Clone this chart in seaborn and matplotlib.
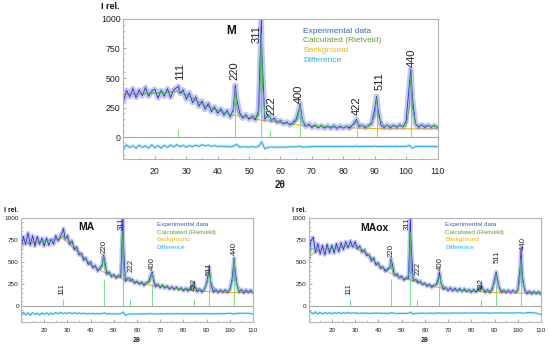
import matplotlib
matplotlib.use("Agg")
import matplotlib.pyplot as plt
import seaborn as sns
import pandas as pd
from matplotlib.ticker import MultipleLocator

# 2theta grid (1 degree steps) for experimental and difference curves
two_theta = list(range(10, 111))

hkl = ['111', '220', '311', '222', '400', '422', '511', '440']
legend_labels = ['Experimental data', 'Calculated (Rietveld)', 'Background', 'Difference']
legend_colors = ['#3164c8', '#5aa02c', '#f3b60c', '#1fb2ee']

# ---------------- M ----------------
m_exp = [300, 395, 340, 410, 335, 400, 350, 420, 345, 390,
         405, 330, 395, 345, 410, 335, 400, 420, 370, 400,
         320, 375, 290, 340, 260, 305, 235, 285, 215, 255,
         200, 240, 185, 225, 170, 240, 330, 205, 160, 190,
         150, 180, 145, 225, 760, 150, 185, 140, 160, 125,
         140, 110, 128, 102, 125, 150, 245, 140, 90, 110,
         80, 102, 78, 98, 75, 95, 74, 96, 72, 92,
         75, 92, 74, 105, 140, 88, 100, 80, 98, 112,
         240, 245, 100, 80, 102, 78, 100, 82, 104, 84,
         135, 440, 330, 110, 82, 104, 80, 100, 82, 98, 80]
m_top_x = [27.5, 45.6, 53.9, 56.5, 66.2, 84.2, 90.6, 101.5]
m_top_y = [430, 440, 1000, 185, 285, 150, 345, 575]
m_calc_x = [10, 15, 20, 25, 27, 27.5, 28, 30, 33, 36, 40, 44, 45, 45.3, 45.6, 45.9, 46.3, 47, 50, 53,
            53.5, 53.9, 54.3, 55, 56, 56.5, 57, 60, 64, 65.5, 66.2, 66.9, 68, 72, 80, 83.7, 84.2, 84.7,
            88, 90, 90.6, 91.2, 93, 100, 101, 101.5, 102, 103, 110]
m_calc_y = [365, 372, 375, 380, 388, 400, 386, 360, 310, 265, 225, 192, 215, 300, 410, 300, 210, 185, 165, 175,
            420, 880, 420, 185, 165, 185, 150, 125, 108, 150, 270, 150, 100, 90, 82, 105, 140, 105,
            88, 170, 330, 170, 95, 92, 250, 540, 250, 105, 88]
m_bg_x = [10, 20, 27, 30, 35, 40, 45, 50, 55, 60, 65, 70, 80, 90, 100, 110]
m_bg_y = [360, 370, 385, 358, 280, 225, 185, 160, 138, 120, 105, 92, 80, 72, 70, 70]
m_diff = [-98, -66, -90, -72, -96, -68, -88, -74, -94, -66,
          -90, -72, -95, -70, -88, -66, -84, -64, -82, -70,
          -86, -72, -82, -68, -80, -64, -76, -68, -80, -72,
          -80, -76, -82, -80, -84, -78, -62, -86, -82, -84,
          -85, -82, -86, -80, -40, -100, -88, -84, -86, -85,
          -86, -84, -85, -83, -82, -84, -76, -86, -84, -83,
          -80, -82, -79, -81, -80, -78, -80, -82, -80, -79,
          -80, -78, -80, -81, -76, -82, -80, -79, -78, -80,
          -76, -82, -79, -80, -78, -80, -79, -78, -80, -79,
          -80, -70, -95, -80, -79, -80, -78, -80, -79, -80, -82]
m_hkl_x = [28, 45.2, 52.3, 57.2, 65.8, 84.3, 91.4, 101.8]
m_hkl_y = [483, 483, 797, 186, 288, 186, 398, 596]
m_bar = [70, 300, 1000, 60, 200, 60, 250, 400]

# ---------------- MA ----------------
ma_exp = [650, 790, 700, 830, 690, 800, 680, 790, 700, 770,
          680, 770, 690, 760, 700, 800, 740, 790, 850, 760,
          800, 700, 740, 640, 670, 580, 600, 520, 545, 470,
          500, 430, 460, 395, 430, 470, 520, 360, 385, 330,
          355, 315, 345, 330, 760, 280, 315, 285, 300, 255,
          280, 245, 270, 230, 262, 275, 350, 300, 215, 245,
          205, 235, 200, 225, 190, 218, 185, 212, 180, 205,
          170, 200, 168, 195, 235, 215, 160, 190, 155, 185,
          260, 400, 225, 155, 185, 150, 180, 152, 182, 150,
          185, 300, 470, 250, 155, 185, 145, 180, 150, 178, 148]
ma_top_x = [28.3, 45.6, 53.9, 57.0, 66.6, 84.5, 91.1, 101.9]
ma_top_y = [880, 580, 1000, 310, 385, 260, 440, 545]
ma_calc_x = [10, 15, 20, 25, 28, 28.3, 28.6, 31, 35, 40, 44, 45, 45.3, 45.6, 45.9, 46.3, 48, 52, 53.4, 53.9,
             54.4, 55.5, 57, 58, 62, 65.5, 66.6, 67.7, 70, 80, 84, 84.5, 85, 89, 90.5, 91.1, 91.7, 94, 100,
             101.3, 101.9, 102.5, 104, 110]
ma_calc_y = [700, 735, 740, 755, 790, 800, 785, 740, 610, 470, 410, 430, 500, 560, 500, 420, 360, 325, 400, 850,
             400, 300, 310, 280, 255, 265, 370, 260, 222, 188, 210, 250, 205, 172, 280, 420, 280, 168, 165,
             300, 520, 300, 170, 162]
ma_bg_x = [10, 20, 28, 35, 40, 45, 50, 55, 60, 70, 80, 90, 100, 110]
ma_bg_y = [700, 735, 770, 600, 465, 390, 340, 295, 258, 220, 183, 163, 150, 150]
ma_diff = [-115, -75, -105, -80, -110, -78, -100, -84, -106, -82,
           -98, -80, -102, -84, -96, -78, -92, -76, -90, -82,
           -88, -78, -92, -80, -90, -82, -92, -84, -94, -86,
           -92, -88, -94, -90, -92, -88, -82, -94, -92, -93,
           -94, -92, -94, -90, -70, -110, -98, -94, -95, -94,
           -94, -93, -95, -92, -94, -93, -90, -95, -94, -93,
           -93, -92, -94, -91, -93, -92, -94, -91, -93, -92,
           -93, -91, -93, -92, -90, -94, -92, -93, -91, -92,
           -90, -94, -92, -91, -93, -90, -92, -89, -91, -88,
           -86, -90, -94, -88, -86, -88, -85, -87, -86, -90, -96]
ma_hkl_x = [27.8, 45.8, 53, 57.3, 66.6, 84.8, 91.2, 102]
ma_hkl_y = [125, 602, 864, 390, 409, 163, 352, 580]
ma_bar = [75, 300, 1000, 80, 250, 80, 250, 400]

# ---------------- MAox ----------------
mx_exp = [520, 740, 780, 610, 710, 590, 690, 580, 700, 600,
          690, 600, 710, 615, 720, 640, 730, 660, 740, 670,
          730, 650, 680, 610, 640, 570, 585, 510, 545, 465,
          490, 425, 445, 390, 420, 440, 480, 345, 365, 315,
          338, 290, 320, 310, 760, 285, 300, 260, 280, 240,
          258, 220, 245, 208, 232, 245, 330, 260, 188, 210,
          172, 205, 168, 200, 165, 196, 162, 194, 160, 185,
          152, 186, 155, 188, 225, 192, 152, 184, 150, 185,
          300, 340, 205, 152, 178, 150, 176, 150, 175, 150,
          180, 430, 330, 175, 140, 165, 135, 162, 138, 160, 130]
mx_top_x = [27.8, 45.4, 53.8, 56.5, 66.3, 84.2, 90.7, 101.4]
mx_top_y = [720, 535, 1000, 290, 385, 240, 385, 640]
mx_calc_x = [10, 11, 15, 20, 25, 28, 31, 35, 40, 44, 45, 45.4, 45.8, 46.5, 48, 52, 53.3, 53.8, 54.3, 55.5,
             56.5, 58, 62, 65.5, 66.3, 67.1, 70, 80, 83.7, 84.2, 84.7, 88, 90.1, 90.7, 91.3, 93, 100, 100.8,
             101.4, 102, 103.5, 110]
mx_calc_y = [560, 650, 640, 650, 670, 690, 680, 600, 466, 400, 420, 520, 420, 370, 335, 300, 380, 845, 380, 290,
             295, 262, 230, 240, 340, 240, 185, 168, 180, 225, 180, 165, 260, 360, 260, 168, 160, 280,
             540, 280, 160, 145]
mx_bg_x = [10, 15, 20, 28, 35, 40, 45, 50, 55, 60, 70, 80, 90, 100, 110]
mx_bg_y = [560, 640, 650, 685, 595, 462, 375, 315, 285, 240, 185, 165, 150, 145, 140]
mx_diff = [-55, -72, -92, -70, -94, -76, -94, -78, -90, -80,
           -92, -78, -88, -76, -90, -80, -88, -78, -86, -80,
           -86, -82, -88, -84, -86, -84, -88, -85, -86, -84,
           -86, -85, -87, -86, -88, -84, -80, -88, -87, -88,
           -88, -87, -88, -86, -72, -96, -86, -87, -86, -85,
           -86, -85, -84, -86, -85, -86, -82, -86, -85, -84,
           -84, -85, -83, -84, -85, -83, -84, -82, -83, -84,
           -83, -84, -82, -83, -80, -84, -83, -82, -84, -83,
           -82, -84, -83, -82, -84, -83, -82, -83, -82, -83,
           -82, -78, -86, -82, -80, -78, -80, -82, -85, -92, -100]
mx_hkl_x = [27.3, 45.4, 52.6, 57, 66.6, 84.5, 91, 102.3]
mx_hkl_y = [125, 560, 864, 352, 409, 163, 488, 636]
mx_bar = [75, 300, 1000, 80, 250, 80, 250, 400]

sns.set_style("white")
plt.rcParams['font.family'] = ['Liberation Sans', 'DejaVu Sans']

fig = plt.figure(figsize=(5.5, 3.47), dpi=100)
ax_m = fig.add_axes([0.2245, 0.5418, 0.571, 0.4035])
ax_ma = fig.add_axes([0.0382, 0.072, 0.4218, 0.2997])
ax_mx = fig.add_axes([0.561, 0.072, 0.4227, 0.2997])


def draw(ax, name, exp, top_x, top_y, calc_x, calc_y, bg_x, bg_y, diff,
         hkl_x, hkl_y, bar, name_pos, leg_x, leg_y, big):
    fs_tick = 6.3 if big else 4.6
    fs_hkl = 8 if big else 5.6
    fs_leg = 6 if big else 4.6
    fs_name = 8.5 if big else 7.5

    exp_df = pd.DataFrame({'x': two_theta + top_x, 'y': exp + top_y}).sort_values('x')
    calc_df = pd.DataFrame({'x': calc_x, 'y': calc_y})
    bg_df = pd.DataFrame({'x': bg_x, 'y': bg_y})
    diff_df = pd.DataFrame({'x': two_theta, 'y': diff})

    ax.axhline(0, color='#a8a8a8', lw=0.8, zorder=1)
    ax.vlines(top_x, 0, bar, color='#7ddf8a', lw=0.8, zorder=1)

    # background under the noisy data, so it only peeks through
    sns.lineplot(data=bg_df, x='x', y='y', ax=ax, color='#f3b60c', lw=0.8, estimator=None)
    sns.lineplot(data=exp_df, x='x', y='y', ax=ax, color='#7c7cf8', lw=4.0 if big else 3.0,
                 alpha=0.45, estimator=None, sort=False)
    sns.lineplot(data=exp_df, x='x', y='y', ax=ax, color='#2a2ad0', lw=0.6,
                 estimator=None, sort=False)
    sns.lineplot(data=calc_df, x='x', y='y', ax=ax, color='#3cc24a', lw=0.65,
                 estimator=None)
    sns.lineplot(data=diff_df, x='x', y='y', ax=ax, color='#66ccf5', lw=2.0 if big else 1.6,
                 alpha=0.45, estimator=None)
    sns.lineplot(data=diff_df, x='x', y='y', ax=ax, color='#1aa3e8', lw=0.6, estimator=None)

    for lab, hx, hy in zip(hkl, hkl_x, hkl_y):
        ax.text(hx, hy, lab, rotation=90, ha='center', va='bottom', fontsize=fs_hkl, color='#222222')

    ax.text(name_pos[0], name_pos[1], name, transform=ax.transAxes, ha='center', va='center',
            fontsize=fs_name, fontweight='bold', color='#111111')
    for i, (lab, col) in enumerate(zip(legend_labels, legend_colors)):
        ax.text(leg_x, leg_y[i], lab, transform=ax.transAxes, ha='left', va='center',
                fontsize=fs_leg, color=col)

    ax.text(-0.041, 1.09 if big else 1.077, 'I rel.', transform=ax.transAxes, ha='center',
            va='center', fontsize=6.5 if big else 5, fontweight='bold', color='#111111')

    ax.set_xlim(10, 110)
    ax.set_ylim(-186, 1000)
    ax.set_xticks(range(20, 111, 10))
    ax.xaxis.set_minor_locator(MultipleLocator(5))
    ax.set_yticks([0, 250, 500, 750, 1000])
    ax.yaxis.set_minor_locator(MultipleLocator(50))
    ax.tick_params(axis='both', which='major', labelsize=fs_tick, colors='#9a9a9a',
                   labelcolor='#222222', direction='in', length=2.5, width=0.6)
    ax.tick_params(axis='both', which='minor', colors='#b0b0b0', direction='in',
                   length=1.3, width=0.5)
    ax.tick_params(axis='x', which='both', bottom=True, pad=6 if big else 4.5)
    ax.tick_params(axis='y', which='both', left=True, pad=2 if big else 1.5)
    ax.set_xlabel('2θ', fontsize=7 if big else 5, fontweight='bold', labelpad=2.5)
    ax.set_ylabel('')
    for sp in ax.spines.values():
        sp.set_color('#b4b4b4')
        sp.set_linewidth(0.8)


draw(ax_m, 'M', m_exp, m_top_x, m_top_y, m_calc_x, m_calc_y, m_bg_x, m_bg_y, m_diff,
     m_hkl_x, m_hkl_y, m_bar, (0.344, 0.914), 0.573, [0.914, 0.845, 0.776, 0.707], True)
draw(ax_ma, 'MA', ma_exp, ma_top_x, ma_top_y, ma_calc_x, ma_calc_y, ma_bg_x, ma_bg_y, ma_diff,
     ma_hkl_x, ma_hkl_y, ma_bar, (0.28, 0.913), 0.586, [0.9375, 0.865, 0.793, 0.721], False)
draw(ax_mx, 'MAox', mx_exp, mx_top_x, mx_top_y, mx_calc_x, mx_calc_y, mx_bg_x, mx_bg_y, mx_diff,
     mx_hkl_x, mx_hkl_y, mx_bar, (0.282, 0.904), 0.587, [0.9375, 0.865, 0.793, 0.721], False)

fig.savefig('out.png', dpi=100)
